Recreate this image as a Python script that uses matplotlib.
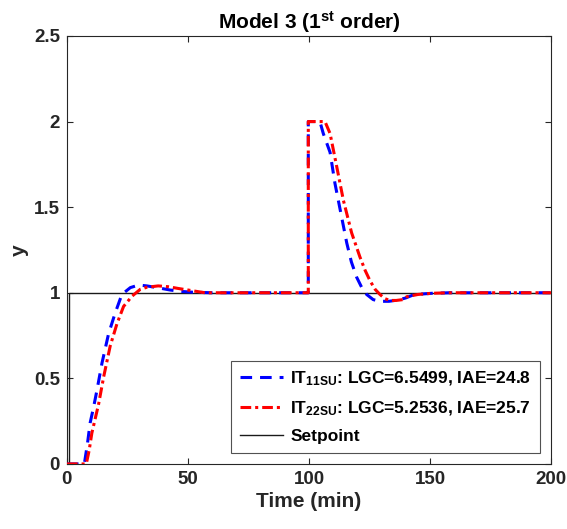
import matplotlib
matplotlib.use("Agg")
import matplotlib.pyplot as plt

# ---------------------------------------------------------------------------
# Data
# ---------------------------------------------------------------------------

t_it11 = [0, 7.2, 8.5, 9.6, 11.0, 12.4, 14.5, 17.2, 19.9, 22.7, 26.2, 29.6,
          33.0, 38.0, 42.6, 47.0, 52.0, 60.0, 99.7,
          99.7, 104.5, 105.9, 108.7, 110.7, 113.5, 115.6, 117.5, 119.7,
          121.8, 123.8, 126.5, 129.3, 133.0, 137.0, 140.0, 143.0, 147.0,
          151.0, 158.0, 200]
y_it11 = [0, 0, 0.12, 0.24, 0.33, 0.43, 0.59, 0.76, 0.88, 0.99, 1.03, 1.045,
          1.04, 1.028, 1.016, 1.008, 1.003, 1.0, 1.0,
          2.0, 2.0, 1.93, 1.82, 1.64, 1.44, 1.29, 1.18, 1.09,
          1.03, 0.99, 0.96, 0.95, 0.95, 0.958, 0.97, 0.987, 0.993,
          0.997, 1.0, 1.0]

t_it22 = [0, 8.0, 9.2, 10.3, 13.1, 15.2, 17.9, 20.7, 23.4, 26.9, 30.3, 33.0,
          37.7, 42.0, 46.0, 50.0, 57.0, 99.7,
          99.7, 106.6, 108.7, 111.4, 114.2, 117.6, 121.0, 123.2, 125.2,
          127.3, 129.3, 131.4, 133.5, 136.0, 138.8, 140.4, 145.0, 151.0,
          158.0, 200]
y_it22 = [0, 0, 0.08, 0.18, 0.35, 0.51, 0.69, 0.82, 0.92, 0.98, 1.02, 1.032,
          1.04, 1.035, 1.025, 1.016, 1.0, 1.0,
          2.0, 2.0, 1.93, 1.74, 1.54, 1.35, 1.21, 1.13, 1.07,
          1.02, 0.99, 0.965, 0.955, 0.955, 0.96, 0.977, 0.99, 0.997,
          1.0, 1.0]

t_sp = [0, 0.8, 0.8, 200]
y_sp = [0, 0, 1, 1]

labels = [r"IT$_{\mathbf{11SU}}$: LGC=6.5499, IAE=24.8",
          r"IT$_{\mathbf{22SU}}$: LGC=5.2536, IAE=25.7",
          "Setpoint"]

# ---------------------------------------------------------------------------
# Figure
# ---------------------------------------------------------------------------

plt.rcParams["font.family"] = ["Liberation Sans", "DejaVu Sans"]
plt.rcParams["font.weight"] = "bold"
plt.rcParams["mathtext.fontset"] = "custom"
plt.rcParams["mathtext.rm"] = "Liberation Sans:bold"
plt.rcParams["mathtext.bf"] = "Liberation Sans:bold"
plt.rcParams["mathtext.default"] = "bf"

fig = plt.figure(figsize=(5.67, 5.29), dpi=100)
ax = fig.add_axes([0.118, 0.123, 0.854, 0.809])

ax.plot(t_it11, y_it11, color="#0000ff", lw=2.2, ls=(0, (3.8, 2.6)),
        label=labels[0], zorder=3)
ax.plot(t_it22, y_it22, color="#ff0000", lw=2.2, ls=(0, (3.5, 1.3, 1.0, 1.3)),
        label=labels[1], zorder=4)
ax.plot(t_sp, y_sp, color="#1a1a1a", lw=1.0, label=labels[2], zorder=2)

ax.set_xlim(0, 200)
ax.set_ylim(0, 2.5)
ax.set_xticks([0, 50, 100, 150, 200])
ax.set_yticks([0, 0.5, 1, 1.5, 2, 2.5])
ax.set_yticklabels(["0", "0.5", "1", "1.5", "2", "2.5"])

ax.tick_params(direction="in", top=True, right=True, length=4, width=0.8,
               labelsize=13.5, colors="#262626", pad=5)
for lab in ax.get_xticklabels() + ax.get_yticklabels():
    lab.set_fontweight("bold")
for sp in ax.spines.values():
    sp.set_color("#262626")
    sp.set_linewidth(0.8)

ax.set_xlabel("Time (min)", fontsize=15, fontweight="bold", color="#262626",
              labelpad=3)
ax.set_ylabel("y", fontsize=15, fontweight="bold", color="#262626",
              labelpad=4)
ax.set_title(r"Model 3 (1$^{\mathbf{st}}$ order)", fontsize=15,
             fontweight="bold", color="black", pad=5)

leg = ax.legend(loc="lower right", fontsize=12.5, frameon=True, fancybox=False,
                edgecolor="#262626", handlelength=2.5, borderpad=0.5,
                labelspacing=0.65, handletextpad=0.4, borderaxespad=0,
                bbox_to_anchor=(0.977, 0.026))
leg.get_frame().set_linewidth(0.8)
for txt in leg.get_texts():
    txt.set_fontweight("bold")

fig.savefig("out.png", dpi=100)
